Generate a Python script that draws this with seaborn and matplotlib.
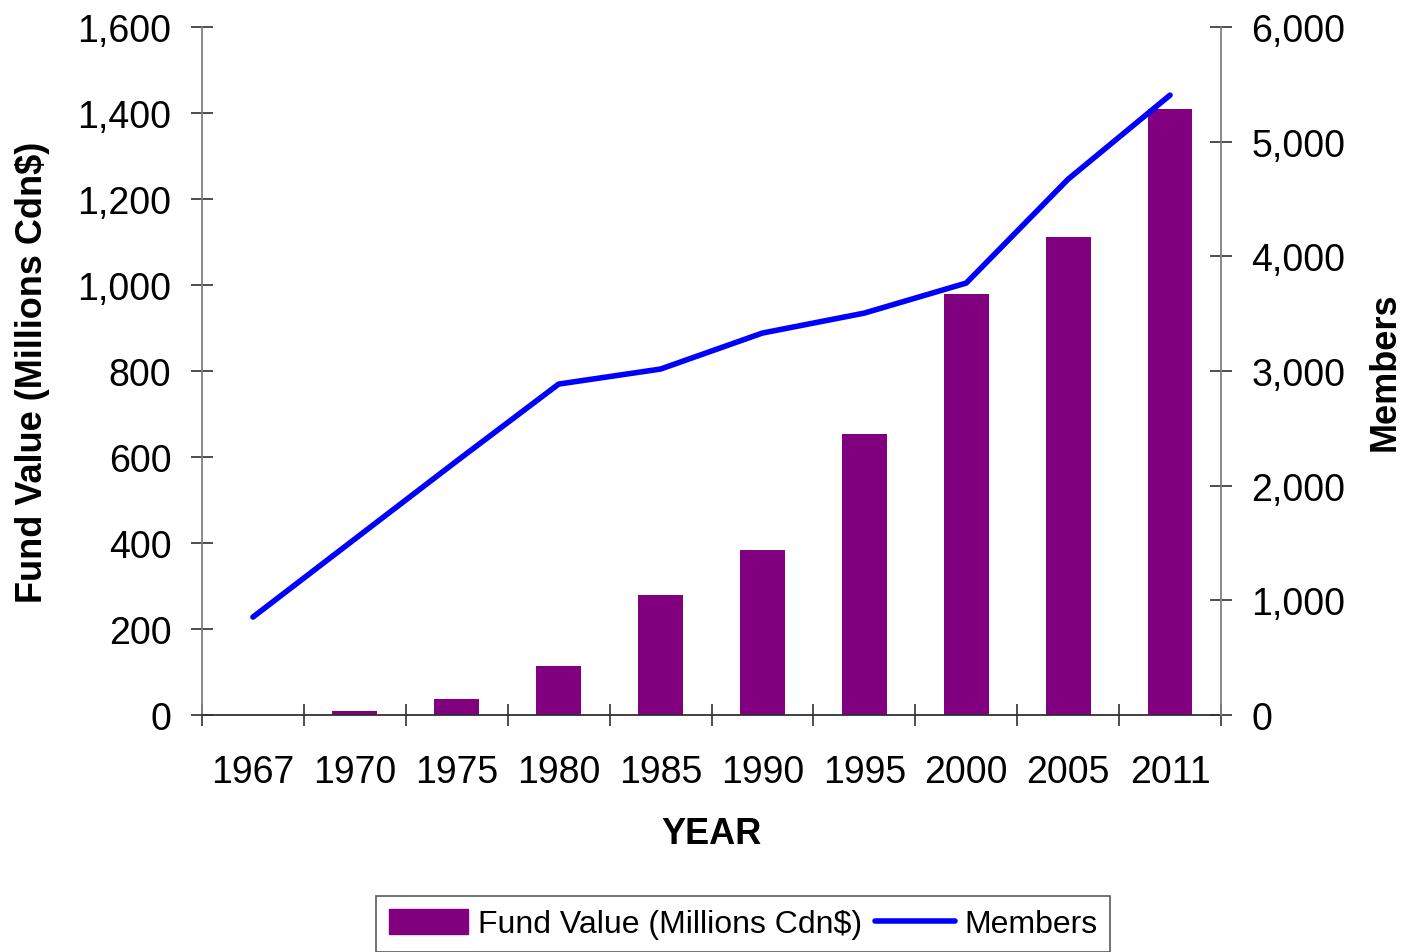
import numpy as np
import pandas as pd
import matplotlib
matplotlib.use("Agg")
import matplotlib.pyplot as plt
import seaborn as sns
from matplotlib.lines import Line2D
from matplotlib.patches import Patch
from matplotlib.ticker import FuncFormatter, MultipleLocator

years = ["1967", "1970", "1975", "1980", "1985", "1990", "1995", "2000", "2005", "2011"]
fund_value = [0, 9, 37, 114, 279, 384, 653, 979, 1112, 1409]
members = [854, 1535, 2215, 2886, 3017, 3331, 3505, 3767, 4673, 5406]

sns.set_theme(style="white")
plt.rcParams['font.family'] = ['Liberation Sans', 'DejaVu Sans']
plt.rcParams['text.color'] = 'black'
plt.rcParams['axes.labelcolor'] = 'black'

df = pd.DataFrame({"year": years, "fund": fund_value, "members": members})

fig = plt.figure(figsize=(14.04, 9.53), dpi=100)
ax = fig.add_axes([202/1404, 1-716/953, (1221-202)/1404, (716-28)/953])

sns.barplot(data=df, x="year", y="fund", color="#800080", saturation=1,
            width=0.44, ax=ax, edgecolor="#800080", linewidth=0)
ax.set_xlim(-0.5, len(years) - 0.5)
ax.set_ylim(0, 1600)
ax.yaxis.set_major_locator(MultipleLocator(200))
ax.yaxis.set_major_formatter(FuncFormatter(lambda v, p: f"{int(v):,}"))

ax2 = ax.twinx()
sns.lineplot(x=np.arange(len(years)), y=df["members"], color="#0000FF",
             linewidth=4, ax=ax2, solid_capstyle="round")
ax2.set_ylim(0, 6000)
ax2.yaxis.set_major_locator(MultipleLocator(1000))
ax2.yaxis.set_major_formatter(FuncFormatter(lambda v, p: f"{int(v):,}"))
ax2.set_xlim(-0.5, len(years) - 0.5)

for a in (ax, ax2):
    for s in a.spines.values():
        s.set_visible(False)
    a.grid(False)

ax.spines['left'].set_visible(True)
ax.spines['left'].set_color('#808080')
ax.spines['bottom'].set_visible(True)
ax.spines['bottom'].set_color('#303030')
ax2.spines['right'].set_visible(True)
ax2.spines['right'].set_color('#808080')
for s in (ax.spines['left'], ax.spines['bottom'], ax2.spines['right']):
    s.set_linewidth(1.3)

# x tick marks at category boundaries, labels at centers
ax.set_xticks(np.arange(len(years)))
ax.set_xticklabels(years)
ax.set_xticks(np.arange(len(years) + 1) - 0.5, minor=True)
ax.tick_params(axis='x', which='major', length=0, pad=28, labelsize=27, labelcolor='black')
ax.tick_params(axis='x', which='minor', length=16, direction='inout', width=1.2, color='#303030', bottom=True)
ax.tick_params(axis='y', which='major', length=16, direction='inout', width=1.2, color='#303030',
               left=True, labelsize=27, pad=14, labelcolor='black')
ax2.tick_params(axis='y', which='major', length=16, direction='inout', width=1.2, color='#303030',
                right=True, labelsize=27, pad=14, labelcolor='black')

ax.set_xlabel("YEAR", fontsize=26, fontweight='bold', labelpad=19, color='black')
ax.set_ylabel("Fund Value (Millions Cdn$)", fontsize=26, fontweight='bold', labelpad=20, color='black')
ax2.set_ylabel("Members", fontsize=26, fontweight='bold', labelpad=16, color='black')

handles = [Patch(facecolor="#800080", edgecolor="#800080"),
           Line2D([0], [0], color="#0000FF", linewidth=4, solid_capstyle='round')]
leg = fig.legend(handles, ["Fund Value (Millions Cdn$)", "Members"],
                 loc='upper center', bbox_to_anchor=(743/1404, 1-891/953),
                 ncol=2, fontsize=23, frameon=True, fancybox=False,
                 edgecolor='#303030', handlelength=2.5, handleheight=0.8,
                 columnspacing=0.4, handletextpad=0.3, borderpad=0.4,
                 borderaxespad=0.2)
leg.get_frame().set_linewidth(1.2)

fig.savefig("out.png", dpi=100)
